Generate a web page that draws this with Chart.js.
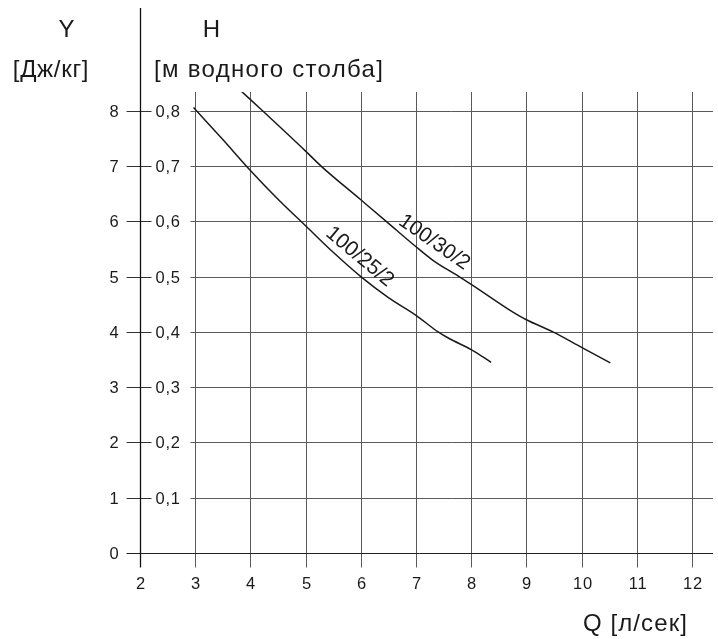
<!DOCTYPE html>
<html lang="ru">
<head>
<meta charset="UTF-8">
<title>Y / H – Q</title>
<script src="https://cdn.jsdelivr.net/npm/chart.js@4.4.1/dist/chart.umd.min.js"></script>
<style>
  html, body { margin: 0; padding: 0; background: #fff; }
  #wrap { width: 718px; height: 639px; }
</style>
</head>
<body>
<div id="wrap"><canvas id="chart" width="718" height="639"></canvas></div>
<script>
// Q axis, л/сек
const qTicks = [2, 3, 4, 5, 6, 7, 8, 9, 10, 11, 12];
// Y axis, Дж/кг, and the parallel H scale, м водного столба
const yTicks = [0, 1, 2, 3, 4, 5, 6, 7, 8];
const hLabels = ['', '0,1', '0,2', '0,3', '0,4', '0,5', '0,6', '0,7', '0,8'];

// pump curves
const seriesNames = ['100/25/2', '100/30/2'];
const q25 = [2.97, 3.5, 4.0, 4.5, 5.0, 5.5, 6.0, 6.5, 7.0, 7.4, 7.6, 8.0, 8.36];
const y25 = [8.06, 7.48, 6.92, 6.4, 5.92, 5.44, 5.0, 4.62, 4.3, 4.0, 3.88, 3.68, 3.45];
const q30 = [3.84, 4.22, 5.0, 5.28, 6.0, 6.46, 7.0, 7.3, 7.78, 8.0, 8.69, 9.0, 9.48, 10.0, 10.52];
const y30 = [8.35, 8.0, 7.27, 7.0, 6.39, 6.0, 5.54, 5.3, 5.0, 4.86, 4.4, 4.22, 4.0, 3.72, 3.44];

const FONT = '"Liberation Sans", Arial, Helvetica, sans-serif';
const INK = '#1a1a1a';

// where the curve names sit (data units) and their tilt
const curveLabels = [
  { text: seriesNames[0], q: 5.98, y: 5.36, angle: 40 },
  { text: seriesNames[1], q: 7.33, y: 5.62, angle: 35 }
];

const toPoints = (qs, ys) => qs.map((q, i) => ({ x: q, y: ys[i] }));

const axesPlugin = {
  id: 'axesPlugin',
  beforeDatasetsDraw(chart) {
    const { ctx, chartArea: a, scales: { x, y } } = chart;
    const px = v => Math.round(x.getPixelForValue(v)) + 0.5;
    const py = v => Math.round(y.getPixelForValue(v)) + 0.5;
    const x0 = px(qTicks[0]);
    const yBase = py(0);

    ctx.save();
    ctx.lineWidth = 1;

    // vertical grid lines, running a little below the zero line
    ctx.strokeStyle = '#5a5a5a';
    qTicks.slice(1).forEach(q => {
      ctx.beginPath();
      ctx.moveTo(px(q), a.top);
      ctx.lineTo(px(q), yBase + 14);
      ctx.stroke();
    });

    // horizontal grid lines, start after the H labels
    yTicks.forEach(v => {
      ctx.strokeStyle = v === 0 ? '#222' : '#5a5a5a';
      ctx.beginPath();
      ctx.moveTo(v === 0 ? x0 - 14 : x0 + 50, py(v));
      ctx.lineTo(a.right, py(v));
      ctx.stroke();
    });

    // small ticks either side of the axis
    ctx.strokeStyle = '#333';
    yTicks.slice(1).forEach(v => {
      ctx.beginPath();
      ctx.moveTo(x0 - 14, py(v));
      ctx.lineTo(x0 + 11, py(v));
      ctx.stroke();
    });

    // main vertical axis
    ctx.strokeStyle = '#111';
    ctx.lineWidth = 1.3;
    ctx.beginPath();
    ctx.moveTo(x0, 8);
    ctx.lineTo(x0, yBase + 14);
    ctx.stroke();

    // tick labels
    ctx.fillStyle = INK;
    ctx.font = '16.5px ' + FONT;
    ctx.letterSpacing = '0.8px';
    ctx.textBaseline = 'middle';
    yTicks.forEach((v, i) => {
      ctx.textAlign = 'right';
      ctx.fillText(String(v), x0 - 21, py(v) + 1);
      if (hLabels[i]) {
        ctx.textAlign = 'left';
        ctx.fillText(hLabels[i], x0 + 15, py(v) + 1);
      }
    });
    ctx.textAlign = 'center';
    qTicks.forEach(q => ctx.fillText(String(q), px(q) + 0.5, yBase + 31));

    // axis titles
    ctx.font = '24px ' + FONT;
    ctx.letterSpacing = '1.2px';
    ctx.textBaseline = 'alphabetic';
    ctx.textAlign = 'center';
    ctx.fillText('Y', 67, 37);
    ctx.fillText('H', 212, 37);
    ctx.letterSpacing = '0.7px';
    ctx.fillText('[Дж/кг]', 51, 77);
    ctx.letterSpacing = '1.3px';
    ctx.textAlign = 'left';
    ctx.fillText('[м водного столба]', 154, 77);
    ctx.letterSpacing = '1.1px';
    ctx.textAlign = 'right';
    ctx.fillText('Q [л/сек]', 688, 631);
    ctx.restore();
  },
  afterDatasetsDraw(chart) {
    const { ctx, scales: { x, y } } = chart;
    ctx.save();
    ctx.fillStyle = INK;
    ctx.font = '21px ' + FONT;
    ctx.textAlign = 'center';
    ctx.textBaseline = 'middle';
    curveLabels.forEach(l => {
      ctx.save();
      ctx.translate(x.getPixelForValue(l.q), y.getPixelForValue(l.y));
      ctx.rotate(l.angle * Math.PI / 180);
      ctx.fillText(l.text, 0, 0);
      ctx.restore();
    });
    ctx.restore();
  }
};

new Chart(document.getElementById('chart'), {
  type: 'line',
  data: {
    datasets: [
      { label: seriesNames[0], data: toPoints(q25, y25) },
      { label: seriesNames[1], data: toPoints(q30, y30) }
    ]
  },
  options: {
    responsive: false,
    animation: false,
    events: [],
    layout: { padding: { left: 140, right: 5, top: 92, bottom: 86 } },
    elements: {
      point: { radius: 0 },
      line: { borderColor: INK, borderWidth: 1.5, cubicInterpolationMode: 'monotone' }
    },
    scales: {
      x: { type: 'linear', min: 2, max: 12.38, display: false },
      y: { type: 'linear', min: 0, max: 8.34, display: false }
    },
    plugins: { legend: { display: false }, tooltip: { enabled: false } }
  },
  plugins: [axesPlugin]
});
</script>
</body>
</html>
